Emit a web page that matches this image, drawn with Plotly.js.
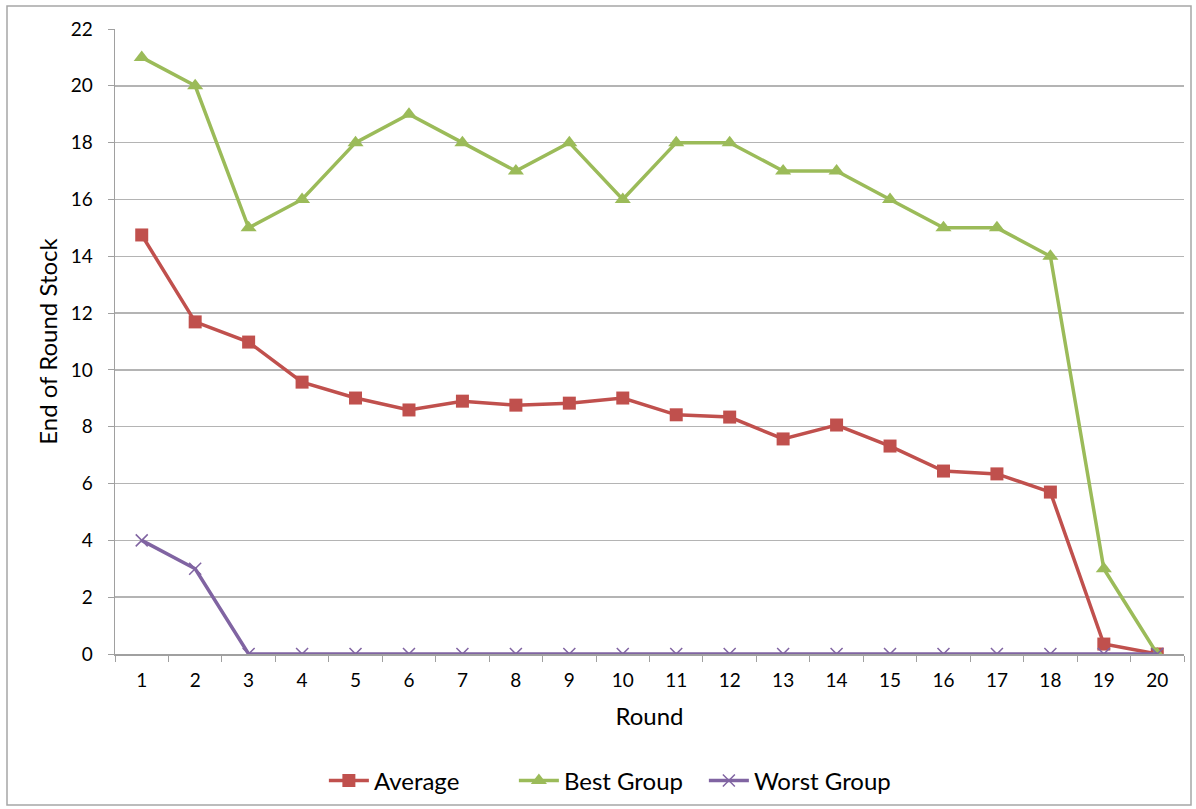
<!DOCTYPE html>
<html>
<head>
<meta charset="utf-8">
<script src="https://cdn.plot.ly/plotly-3.0.1.min.js"></script>
<style>
html,body{margin:0;padding:0;background:#fff;}
#chart{width:1196px;height:809px;}
</style>
</head>
<body>
<div id="chart"></div>
<script>
const rounds = ["1","2","3","4","5","6","7","8","9","10","11","12","13","14","15","16","17","18","19","20"];
const average = [14.75,11.69,10.98,9.57,9.01,8.59,8.9,8.76,8.83,9.01,8.42,8.34,7.57,8.06,7.32,6.44,6.34,5.7,0.35,0];
const bestGroup = [21,20,15,16,18,19,18,17,18,16,18,18,17,17,16,15,15,14,3,0];
const worstGroup = [4,3,0,0,0,0,0,0,0,0,0,0,0,0,0,0,0,0,0,0];
const yTicks = [0,2,4,6,8,10,12,14,16,18,20,22];

const traces = [
  {x: rounds, y: average, name: "Average", type: "scatter", mode: "lines+markers",
   line: {color: "#C0504D", width: 3.5}, marker: {symbol: "square", size: 13, color: "#C0504D"}},
  {x: rounds, y: bestGroup, name: "Best Group", type: "scatter", mode: "lines+markers",
   line: {color: "#9BBB59", width: 3.5}, marker: {symbol: "triangle-up", size: 14, color: "#9BBB59"}},
  {x: rounds, y: worstGroup, name: "Worst Group", type: "scatter", mode: "lines+markers",
   line: {color: "#8064A2", width: 3.5}, marker: {symbol: "x-thin", size: 12, color: "#8064A2", line: {color: "#8064A2", width: 1.5}}}
];

const layout = {
  width: 1196, height: 809,
  margin: {l: 115, r: 12, t: 29, b: 155, autoexpand: false},
  paper_bgcolor: "#fff", plot_bgcolor: "#fff",
  font: {family: "Lato, 'Open Sans', sans-serif", color: "#000", size: 19},
  showlegend: true,
  legend: {orientation: "h", x: 0.462, xanchor: "center", y: -0.203, yanchor: "middle",
           font: {size: 24}, traceorder: "normal", itemwidth: 40, entrywidth: 135},
  xaxis: {type: "category", tickson: "boundaries", ticks: "outside", ticklen: 6,
          tickcolor: "#a0a0a0", showgrid: false, showline: true, linecolor: "#a0a0a0", linewidth: 1.5,
          tickfont: {size: 19}, range: [-0.5, 19.5], automargin: false, ticklabelstandoff: 9,
          title: {text: "Round", font: {size: 24}, standoff: 18}},
  yaxis: {range: [0, 22], tickvals: yTicks, ticks: "outside", ticklen: 6, tickcolor: "#a0a0a0",
          showgrid: true, gridcolor: "#b4b4b4", gridwidth: 1.5, showline: true, linecolor: "#a0a0a0", linewidth: 1.5,
          zeroline: false, tickfont: {size: 19}, automargin: false, ticklabelstandoff: 11,
          title: {text: "End of Round Stock", font: {size: 24}, standoff: 6}},
  shapes: [{type: "rect", xref: "paper", yref: "paper",
            x0: (7-115)/1069, x1: (1191-115)/1069, y0: (654-805)/625, y1: (654-6)/625,
            line: {color: "#a6a6a6", width: 1.5}, fillcolor: "rgba(0,0,0,0)", layer: "below"}]
};

Plotly.newPlot("chart", traces, layout, {displayModeBar: false, staticPlot: true});
</script>
</body>
</html>
